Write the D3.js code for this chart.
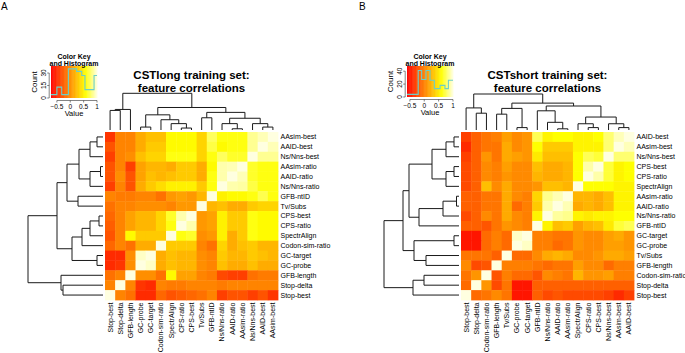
<!DOCTYPE html>
<html><head><meta charset="utf-8">
<script src="https://cdn.jsdelivr.net/npm/d3@7"></script>
<style>
body{margin:0;background:#fff}
svg{display:block}
text{font-family:"Liberation Sans",Arial,Helvetica,sans-serif;fill:#000}
</style></head>
<body><svg id="chart" width="685" height="353"></svg>
<script>
// ---------- DATA ----------
const rowLabelsA = ["AAsim-best","AAID-best","Ns/Nns-best","AAsim-ratio","AAID-ratio","Ns/Nns-ratio","GFB-ntID","Tv/Subs","CPS-best","CPS-ratio","SpectrAlign","Codon-sim-ratio","GC-target","GC-probe","GFB-length","Stop-delta","Stop-best"];
const colLabelsA = ["Stop-best","Stop-delta","GFB-length","GC-probe","GC-target","Codon-sim-ratio","SpectrAlign","CPS-ratio","CPS-best","Tv/Subs","GFB-ntID","Ns/Nns-ratio","AAID-ratio","AAsim-ratio","Ns/Nns-best","AAID-best","AAsim-best"];
const valuesA = [
[-0.45,-0.05,-0.05,0.15,0.25,0.25,0.55,0.55,0.55,0.35,0.75,0.6,0.6,0.6,0.85,0.92,1],
[-0.3,-0.05,-0.05,0.15,0.3,0.3,0.55,0.55,0.55,0.35,0.7,0.55,0.6,0.6,0.85,1,0.92],
[-0.4,-0.05,0,0.25,0.35,0.35,0.6,0.6,0.6,0.35,0.6,0.75,0.65,0.65,1,0.85,0.85],
[-0.3,-0.05,-0.4,0.1,0.2,0.2,0.15,0.3,0.3,0.15,0.55,0.9,0.92,1,0.65,0.6,0.6],
[-0.3,0,-0.3,0.1,0.25,0.2,0.25,0.3,0.3,0.15,0.6,0.9,1,0.92,0.65,0.6,0.6],
[-0.4,-0.05,-0.3,0.15,0.3,0.4,0.5,0.5,0.5,0.3,0.6,1,0.9,0.88,0.7,0.6,0.6],
[-0.05,-0.1,-0.1,-0.05,-0.05,-0.15,0.05,0.1,0.05,0.2,1,0.5,0.55,0.55,0.6,0.72,0.6],
[-0.15,-0.05,-0.05,0,0,0,-0.05,0.05,0.05,1,0.2,0.25,0.15,0.15,0.3,0.35,0.35],
[-0.2,-0.05,0.1,0.2,0.2,0.35,0.65,0.9,1,0.05,0.1,0.5,0.3,0.3,0.6,0.55,0.55],
[-0.25,-0.05,0.1,0.2,0.2,0.35,0.6,1,0.9,0.05,0.1,0.5,0.3,0.3,0.6,0.55,0.55],
[-0.3,-0.05,0.55,0.3,0.3,0.3,1,0.6,0.65,0,0.05,0.5,0.15,0.3,0.6,0.55,0.55],
[-0.2,-0.05,-0.15,0.15,0.15,1,0.3,0.3,0.3,-0.05,-0.15,0.35,0.15,0.25,0.3,0.2,0.2],
[-0.5,-0.5,0,0.95,1,0.15,0.25,0.2,0.2,0,-0.05,0.3,0.2,0.2,0.3,0.25,0.2],
[-0.5,-0.45,0,1,0.95,0.15,0.25,0.2,0.2,0,-0.05,0.25,0.15,0.15,0.25,0.15,0.15],
[-0.15,-0.05,1,0,0,-0.15,0.55,0.1,0.1,-0.05,-0.1,-0.35,-0.4,-0.4,-0.15,-0.1,-0.1],
[-0.05,1,-0.05,-0.45,-0.5,-0.05,-0.1,-0.1,-0.05,-0.05,-0.05,-0.1,-0.05,-0.05,-0.05,-0.05,-0.05],
[1,-0.05,-0.15,-0.5,-0.5,-0.2,-0.3,-0.25,-0.2,-0.15,-0.05,-0.4,-0.3,-0.3,-0.4,-0.3,-0.45]
];
// dendrogram: [mergeHeight, left, right]
const treeA = [75,
  [46,
    [36,
      [24,[13,[6,"AAsim-best","AAID-best"],"Ns/Nns-best"],[13,[2.5,"AAsim-ratio","AAID-ratio"],"Ns/Nns-ratio"]],
      [25,"GFB-ntID","Tv/Subs"]],
    [31,
      [21,[13,[4,"CPS-best","CPS-ratio"],"SpectrAlign"],"Codon-sim-ratio"],
      [6,"GC-target","GC-probe"]]],
  [42,"GFB-length",[40,"Stop-delta","Stop-best"]]];
const keyRangeA = [-0.72, 1];
const histEdgesA = [-0.72,-0.5,-0.32,-0.07,0.24,0.43,0.55,0.74,0.89,1];
const histCountsA = [4,13,4,35,32,27,10,10,27];
const countTicksA = [0,15,30];
const countMaxA = 38.4;

const rowLabelsB = ["AAID-best","AAsim-best","Ns/Nns-best","CPS-best","CPS-ratio","SpectrAlign","AAsim-ratio","AAID-ratio","Ns/Nns-ratio","GFB-ntID","GC-target","GC-probe","Tv/Subs","GFB-length","Codon-sim-ratio","Stop-delta","Stop-best"];
const colLabelsB = ["Stop-best","Stop-delta","Codon-sim-ratio","GFB-length","Tv/Subs","GC-probe","GC-target","GFB-ntID","Ns/Nns-ratio","AAID-ratio","AAsim-ratio","SpectrAlign","CPS-ratio","CPS-best","Ns/Nns-best","AAsim-best","AAID-best"];
const valuesB = [
[-0.3,-0.15,-0.05,0,0.15,0.05,0.1,0.75,0.55,0.6,0.6,0.55,0.55,0.6,0.8,0.93,1],
[-0.4,-0.15,-0.05,-0.05,0.2,0.05,0.1,0.6,0.35,0.35,0.35,0.55,0.55,0.55,0.8,1,0.93],
[-0.3,-0.15,0.1,-0.05,0.2,0.15,0.1,0.5,0.3,0.3,0.3,0.6,0.75,0.7,1,0.8,0.8],
[-0.25,-0.15,0.05,0,0.15,0.05,0.05,0.3,0.2,0.2,0.25,0.6,0.9,1,0.7,0.55,0.6],
[-0.25,-0.15,0.05,0,0.1,0.05,0.05,0.25,0.2,0.2,0.25,0.6,1,0.9,0.7,0.55,0.6],
[-0.25,-0.15,0.3,0.05,0.2,0.05,0.05,0.1,0.3,0.3,0.25,1,0.6,0.6,0.6,0.55,0.55],
[-0.15,-0.15,-0.05,-0.05,0.2,0.05,0,0.4,0.85,0.92,1,0.25,0.25,0.2,0.3,0.55,0.55],
[-0.15,-0.15,-0.05,-0.05,0.2,-0.1,0,0.35,0.9,1,0.92,0.2,0.25,0.2,0.3,0.55,0.55],
[-0.25,-0.15,0.05,-0.05,0.2,0.05,0,0.55,1,0.88,0.85,0.55,0.5,0.55,0.55,0.6,0.6],
[-0.15,-0.15,-0.2,-0.05,0.1,0.05,0,1,0.55,0.3,0.35,0.15,0.25,0.3,0.5,0.7,0.75],
[-0.5,-0.5,-0.1,0,-0.1,0.95,1,0,0,-0.05,-0.05,0.1,0.05,0.05,0.15,0.2,0.1],
[-0.5,-0.5,-0.1,0,-0.1,1,0.95,0,0,-0.1,-0.05,0.1,0.05,0.05,0.15,0.15,0.1],
[-0.05,-0.05,-0.05,-0.15,1,-0.1,-0.1,0.05,0.2,0.25,0.2,0.05,0.05,0.1,0.2,0.2,0.15],
[0.05,-0.25,-0.2,1,0,0,0,-0.05,-0.1,-0.05,-0.05,0.15,0.05,0.05,-0.1,0,0],
[-0.05,0.1,1,-0.2,0,-0.1,-0.1,-0.2,0.05,0,-0.05,0.25,0.1,0.1,0.15,0,0],
[-0.1,1,0.1,-0.25,-0.05,-0.5,-0.5,-0.15,-0.15,-0.15,-0.15,-0.15,-0.15,-0.15,-0.15,-0.15,-0.15],
[1,-0.1,-0.05,0.05,-0.05,-0.5,-0.5,-0.15,-0.25,-0.2,-0.25,-0.25,-0.25,-0.25,-0.3,-0.4,-0.3]
];
const treeB = [75,
  [56,
    [50,
      [27,[13,[5,"AAID-best","AAsim-best"],"Ns/Nns-best"],[13,[5,"CPS-best","CPS-ratio"],"SpectrAlign"]],
      [40,[16,[2.5,"AAsim-ratio","AAID-ratio"],"Ns/Nns-ratio"],"GFB-ntID"]],
    [45,[5,"GC-target","GC-probe"],[33,"Tv/Subs","GFB-length"]]],
  [46,[35,"Codon-sim-ratio","Stop-delta"],"Stop-best"]];
const keyRangeB = [-0.6, 1];
const histEdgesB = [-0.6,-0.21,-0.09,0.06,0.2,0.35,0.55,0.72,0.84,1];
const histCountsB = [4,41,27,41,26,13,18,13,26];
const countTicksB = [0,20,40];
const countMaxB = 48;

const keyTicks = [-0.5,0,0.5,1];
const titlesA = ["CSTlong training set:","feature correlations"];
const titlesB = ["CSTshort training set:","feature correlations"];

// ---------- DRAW ----------
const svg = d3.select("#chart");

function heat(v, lo, hi){
  const t = Math.max(0, Math.min(1, (v-lo)/(hi-lo)));
  if (t < 0.75) return d3.hsl(t/0.75*60, 1, 0.5).formatHex();
  const s = 1 - (t-0.75)/0.25*0.88;
  return d3.rgb(255,255,Math.round(255*(1-s))).formatHex();
}

function drawPanel(p){
  const g = svg.append("g");
  const x = d3.scaleBand().domain(p.cols).range(p.heatX);
  const y = d3.scaleBand().domain(p.rows).range(p.heatY);
  const [lo,hi] = p.keyRange;

  p.vals.forEach((row,ri)=>{
    row.forEach((v,ci)=>{
      g.append("rect")
        .attr("x", x(p.cols[ci])).attr("y", y(p.rows[ri]))
        .attr("width", x.bandwidth()+0.4).attr("height", y.bandwidth()+0.4)
        .attr("fill", heat(v,lo,hi));
    });
  });

  g.selectAll(null).data(p.rows).join("text")
    .attr("x", p.heatX[1]+2.5).attr("y", d=>y(d)+y.bandwidth()/2)
    .attr("dy","0.35em").attr("font-size",7).text(d=>d);
  g.selectAll(null).data(p.cols).join("text")
    .attr("transform", d=>`translate(${x(d)+x.bandwidth()/2},${p.heatY[1]+2.5}) rotate(-90)`)
    .attr("dy","0.35em").attr("text-anchor","end").attr("font-size",7).text(d=>d);

  const line = d3.line();
  function dendro(tree, posOf, hScale, horiz){
    const paths = [];
    function walk(n){
      if (typeof n === "string") return {pos: posOf(n), h: 0};
      const a = walk(n[1]), b = walk(n[2]);
      const H = n[0];
      const pts = [[a.h,a.pos],[H,a.pos],[H,b.pos],[b.h,b.pos]]
        .map(([h,pos])=> horiz ? [hScale(h),pos] : [pos,hScale(h)]);
      paths.push(pts);
      return {pos:(a.pos+b.pos)/2, h:H};
    }
    walk(tree);
    g.append("g").selectAll("path").data(paths).join("path")
      .attr("d", line).attr("fill","none").attr("stroke","#1a1a1a").attr("stroke-width",1);
  }
  const rowH = d3.scaleLinear().domain([0,p.tree[0]]).range(p.rowDendX);
  dendro(p.tree, d=>y(d)+y.bandwidth()/2, rowH, true);
  const colH = d3.scaleLinear().domain([0,p.tree[0]]).range(p.colDendY);
  dendro(p.tree, d=>x(d)+x.bandwidth()/2, colH, false);

  g.selectAll(null).data(p.titles).join("text")
    .attr("x", (p.heatX[0]+p.heatX[1])/2).attr("y",(d,i)=>p.titleY+i*13)
    .attr("text-anchor","middle").attr("font-weight","bold").attr("font-size",11.5).text(d=>d);
  g.append("text").attr("x",p.letterX).attr("y",10).attr("font-size",10).text(p.letter);

  const kx = d3.scaleLinear().domain(p.keyRange).range(p.keyX);
  const ky = d3.scaleLinear().domain([0,p.countMax]).range([p.keyY[1],p.keyY[0]]);
  const steps = d3.range(80).map(i=> lo + (hi-lo)*i/80);
  const sw = (hi-lo)/80;
  g.append("g").selectAll("rect").data(steps).join("rect")
    .attr("x", d=>kx(d)).attr("y",p.keyY[0])
    .attr("width", kx(lo+sw)-kx(lo)+0.4).attr("height",p.keyY[1]-p.keyY[0])
    .attr("fill", d=>heat(d+sw/2,lo,hi));
  const hpts = p.counts.map((c,i)=>[kx(p.edges[i]), ky(c)]);
  hpts.push([kx(p.edges[p.edges.length-1]), ky(p.counts[p.counts.length-1])]);
  g.append("path").attr("d", d3.line().curve(d3.curveStepAfter)(hpts))
    .attr("fill","none").attr("stroke","#6ccfc8").attr("stroke-width",1.1);

  const axY = p.keyY[1]+2.5;
  g.append("line").attr("x1",kx(keyTicks[0])).attr("x2",kx(keyTicks[keyTicks.length-1]))
    .attr("y1",axY).attr("y2",axY).attr("stroke","#333").attr("stroke-width",0.6);
  g.selectAll(null).data(keyTicks).join("line")
    .attr("x1",d=>kx(d)).attr("x2",d=>kx(d)).attr("y1",axY).attr("y2",axY+2)
    .attr("stroke","#333").attr("stroke-width",0.6);
  g.selectAll(null).data(keyTicks).join("text")
    .attr("x",d=>kx(d)).attr("y",axY+8).attr("text-anchor","middle").attr("font-size",6.5)
    .text(d=> d===0?"0":(d<0?"\u22120.5":String(d)));
  g.append("text").attr("x",(p.keyX[0]+p.keyX[1])/2).attr("y",axY+15.5)
    .attr("text-anchor","middle").attr("font-size",7.5).text("Value");

  const axX = p.keyX[0]-1.8;
  g.append("line").attr("x1",axX).attr("x2",axX)
    .attr("y1",ky(p.countTicks[0])).attr("y2",ky(p.countTicks[p.countTicks.length-1]))
    .attr("stroke","#333").attr("stroke-width",0.6);
  g.selectAll(null).data(p.countTicks).join("line")
    .attr("x1",axX-2).attr("x2",axX).attr("y1",d=>ky(d)).attr("y2",d=>ky(d))
    .attr("stroke","#333").attr("stroke-width",0.6);
  g.selectAll(null).data(p.countTicks).join("text")
    .attr("transform",d=>`translate(${axX-3.5},${ky(d)}) rotate(-90)`)
    .attr("text-anchor","middle").attr("font-size",6.5).text(d=>d);
  g.append("text")
    .attr("transform",`translate(${axX-12},${(p.keyY[0]+p.keyY[1])/2}) rotate(-90)`)
    .attr("text-anchor","middle").attr("font-size",8).text("Count");

  g.selectAll(null).data(["Color Key","and Histogram"]).join("text")
    .attr("x",(p.keyX[0]+p.keyX[1])/2).attr("y",(d,i)=>58.5+i*7)
    .attr("text-anchor","middle").attr("font-weight","bold").attr("font-size",7).text(d=>d);
}

drawPanel({rows:rowLabelsA, cols:colLabelsA, vals:valuesA, tree:treeA, keyRange:keyRangeA,
  edges:histEdgesA, counts:histCountsA, countTicks:countTicksA, countMax:countMaxA, titles:titlesA,
  letter:"A", letterX:1, heatX:[105,278], heatY:[132,300], rowDendX:[103,28], colDendY:[130,93.3],
  keyX:[51,97], keyY:[66,98], titleY:78.5});
drawPanel({rows:rowLabelsB, cols:colLabelsB, vals:valuesB, tree:treeB, keyRange:keyRangeB,
  edges:histEdgesB, counts:histCountsB, countTicks:countTicksB, countMax:countMaxB, titles:titlesB,
  letter:"B", letterX:359, heatX:[461,634], heatY:[132,300], rowDendX:[459,384], colDendY:[130,94],
  keyX:[407,453], keyY:[66,97], titleY:78.5});
</script></body></html>
